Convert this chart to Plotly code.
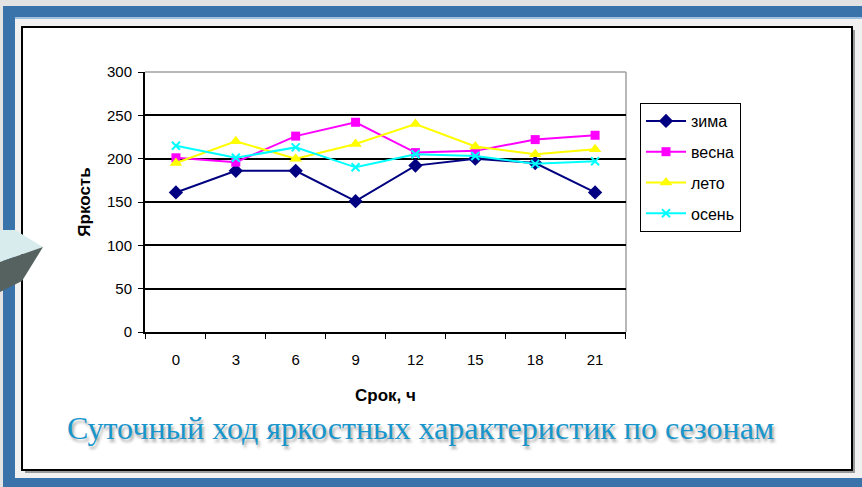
import plotly.graph_objects as go

# Observation times (hours) and brightness values per season
hours = ["0", "3", "6", "9", "12", "15", "18", "21"]
winter = [161, 186, 186, 151, 192, 200, 195, 161]
spring = [201, 196, 226, 242, 207, 209, 222, 227]
summer = [195, 220, 200, 217, 240, 214, 205, 211]
autumn = [215, 201, 213, 190, 205, 203, 194, 197]

season_names = ["зима", "весна", "лето", "осень"]
season_values = [winter, spring, summer, autumn]
season_colors = ["#000080", "#ff00ff", "#ffff00", "#00ffff"]
season_symbols = ["diamond", "square", "triangle-up", "x-thin"]
season_sizes = [11, 9, 11, 8]

W, H = 862, 487
L, R, T, B = 145, 626, 72, 332  # plot area in pixels


def px(x, y):
    """Pixel position -> paper coordinates."""
    return (x - L) / (R - L), (B - y) / (B - T)


def rect(x0, y0, x1, y1, fill, line_color=None, line_width=0):
    a = px(x0, y0)
    b = px(x1, y1)
    return dict(type="rect", xref="paper", yref="paper", layer="below",
                x0=a[0], y0=b[1], x1=b[0], y1=a[1], fillcolor=fill,
                line=dict(color=line_color or fill, width=line_width))


def poly(points, fill):
    coords = [px(x, y) for x, y in points]
    path = "M " + " L ".join(f"{cx:.5f},{cy:.5f}" for cx, cy in coords) + " Z"
    return dict(type="path", xref="paper", yref="paper", layer="above",
                path=path, fillcolor=fill, line=dict(width=0))


fig = go.Figure()
for name, vals, col, sym, size in zip(season_names, season_values, season_colors,
                                      season_symbols, season_sizes):
    marker = dict(symbol=sym, size=size, color=col)
    if sym == "x-thin":
        marker["line"] = dict(color=col, width=2)
    fig.add_trace(go.Scatter(x=hours, y=vals, name=name, mode="lines+markers",
                             line=dict(color=col, width=2), marker=marker,
                             legendgroup=name))

shapes = [
    # slide background bands
    rect(0, 0, W, H, "#e3e3e3"),
    rect(3, 6, W, 18, "#3a72aa"),
    rect(3, 6, 15, H, "#3a72aa"),
    rect(3, 478, W, H, "#3a72aa"),
    rect(15, 18, W, 478, "#f1f1f1"),
    rect(15, 17, W, 19, "#9fc0de"),
    # chart frame with a soft shadow
    rect(25, 30, 855, 473, "#9a9a9a"),
    rect(22, 27, 852, 470, "#ffffff", "#000000", 2),
    # plot area outline (top/right)
    dict(type="line", xref="paper", yref="paper", x0=0, y0=1, x1=1, y1=1,
         line=dict(color="#a0a0a0", width=1.5), layer="below"),
    dict(type="line", xref="paper", yref="paper", x0=1, y0=0, x1=1, y1=1,
         line=dict(color="#a0a0a0", width=1.5), layer="below"),
    # decorative arrow at the left edge
    poly([(0, 230), (15, 230), (43, 247), (0, 262)], "#d8ecee"),
    poly([(0, 262), (43, 247), (22, 281), (0, 292)], "#56625f"),
]

tx, ty = px(420, 428)

fig.update_layout(
    width=W, height=H,
    margin=dict(l=L, r=W - R, t=T, b=H - B),
    paper_bgcolor="#e3e3e3",
    plot_bgcolor="#ffffff",
    font=dict(family="Liberation Sans, Arial", size=15, color="#000000"),
    shapes=shapes,
    showlegend=True,
    legend=dict(x=px(640, 0)[0], xanchor="left", y=px(0, 103)[1], yanchor="top",
                bgcolor="#ffffff", bordercolor="#000000", borderwidth=1,
                font=dict(size=16), itemwidth=40, tracegroupgap=7),
    annotations=[dict(text="Суточный ход яркостных характеристик по сезонам",
                      xref="paper", yref="paper", x=tx, y=ty,
                      xanchor="center", yanchor="middle", showarrow=False,
                      font=dict(family="Liberation Serif, Times New Roman", size=32,
                                color="#1896cc",
                                shadow="2px 3px 3px rgba(0,0,0,0.35)"))],
    xaxis=dict(type="category", tickson="boundaries", ticks="outside", ticklen=5,
               tickcolor="#000000", showline=True, linecolor="#000000", linewidth=2,
               showgrid=False, ticklabelstandoff=13,
               title=dict(text="<b>Срок, ч</b>", font=dict(size=17), standoff=22)),
    yaxis=dict(range=[0, 300], dtick=50, ticks="outside", ticklen=5,
               tickcolor="#000000", showline=True, linecolor="#000000", linewidth=2,
               showgrid=True, gridcolor="#000000", gridwidth=1.5,
               zeroline=False, ticklabelstandoff=3,
               title=dict(text="<b>Яркость</b>", font=dict(size=17), standoff=12)),
)

fig.write_html("out.html")
